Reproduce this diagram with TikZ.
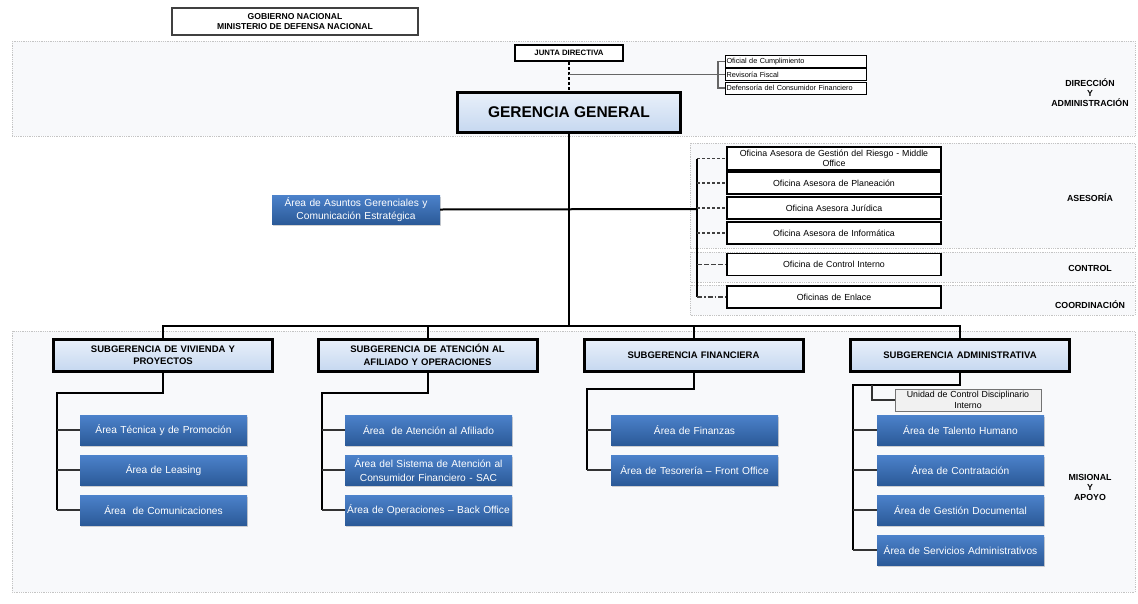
\documentclass[tikz,border=0pt]{standalone}
\usepackage{fontspec}
\setmainfont{Liberation Sans}
\usetikzlibrary{shadows}
\definecolor{regbg}{HTML}{F8F9FB}
\definecolor{regline}{HTML}{C4C4C4}
\definecolor{ltop}{HTML}{E9F0FA}
\definecolor{lbot}{HTML}{C6D8F0}
\definecolor{btop}{HTML}{4C82CB}
\definecolor{bbot}{HTML}{2B5A98}
\definecolor{grayfill}{HTML}{F1F1F1}
\newcommand{\fs}[2]{\fontsize{#1}{#2}\selectfont}
\tikzset{
  region/.style={draw=regline, densely dotted, line width=0.8, fill=regbg},
  conn/.style={draw=black, line width=2},
  tick/.style={draw=black!80, line width=1.4},
  hdrbox/.style={draw=black!75, line width=1.3, fill=white, minimum width=246, minimum height=27,
    inner sep=0, align=center, font=\fs{8.6}{10.5}\bfseries},
  juntabox/.style={draw=black, line width=2, fill=white, minimum width=108, minimum height=16,
    inner sep=0, font=\fs{7.8}{9}\bfseries},
  ggbox/.style={draw=black, line width=3, top color=ltop, bottom color=lbot, minimum width=223,
    minimum height=40, inner sep=0, font=\fs{15.5}{18}\bfseries},
  smallbox/.style={draw=black, line width=1, fill=white, minimum width=141, minimum height=12,
    inner sep=1.5, text width=138, align=left, font=\fs{7.3}{8}},
  asbox/.style={draw=black, line width=1.1, fill=white, minimum width=214, minimum height=22,
    inner sep=0, text width=212, align=center, font=\fs{8.8}{10.5}},
  subbox/.style={draw=black, line width=3, top color=ltop, bottom color=lbot, minimum width=219,
    minimum height=32, inner sep=0, text width=210, align=center, font=\fs{9.5}{12.5}\bfseries},
  bluebox/.style={top color=btop, bottom color=bbot, minimum width=167, minimum height=30,
    inner sep=0, text width=167, align=center, text=white, font=\fs{10.2}{13.5},
    drop shadow={shadow xshift=1pt, shadow yshift=-1.5pt, opacity=0.35}},
  unitbox/.style={draw=black!55, line width=1, fill=grayfill, minimum width=146, minimum height=22,
    inner sep=0, text width=146, align=center, font=\fs{8.8}{10.5}},
  lvl/.style={align=center, font=\fs{8.8}{10}\bfseries}
}
\begin{document}
\begin{tikzpicture}[x=1pt, y=-1pt]
\useasboundingbox (0,0) rectangle (1138,603);
\fill[white] (0,0) rectangle (1138,603);

% background bands
\draw[region] (12,41) rectangle (1135,136);
\draw[region] (690,143) rectangle (1135,248);
\draw[region] (690,252) rectangle (1135,282);
\draw[region] (690,285) rectangle (1135,315);
\draw[region] (12,331) rectangle (1135,592);

% level labels
\node[lvl] (l1) at (1090,93) {DIRECCIÓN\\Y\\ADMINISTRACIÓN};
\node[lvl] (l2) at (1090,198) {ASESORÍA};
\node[lvl] (l3) at (1090,268) {CONTROL};
\node[lvl] (l4) at (1090,305) {COORDINACIÓN};
\node[lvl] (l5) at (1090,487) {MISIONAL\\Y\\APOYO};

% top
\node[hdrbox] (gob) at (295,21.5) {GOBIERNO NACIONAL\\MINISTERIO DE DEFENSA NACIONAL};
\node[juntabox] (jd) at (569,53) {JUNTA DIRECTIVA};
\node[ggbox] (gg) at (569,112) {GERENCIA GENERAL};
\node[smallbox] (oc) at (795.5,61.5) {Oficial de Cumplimiento};
\node[smallbox] (rf) at (795.5,74.5) {Revisoría Fiscal};
\node[smallbox] (dcf) at (795.5,88) {Defensoría del Consumidor Financiero};

\draw[line width=2.4, dashed, dash pattern=on 3pt off 2pt] (jd.south) -- (gg.north);
\coordinate (rb) at (718,74.5);
\draw[draw=black!60, line width=1.6] (569,74.5) -- (rb);
\draw[draw=black!60, line width=1.6] (oc.west) -| (rb |- dcf.west) -- (dcf.west);
\draw[draw=black!60, line width=1.6] (rb) -- (rf.west);

% advisory offices
\node[bluebox, minimum width=168, minimum height=29, text width=168] (ag) at (356,209.5)
  {Área de Asuntos Gerenciales y\\Comunicación Estratégica};
\node[asbox, minimum height=23] (as1) at (834,158.5) {Oficina Asesora de Gestión del Riesgo - Middle\\Office};
\node[asbox] (as2) at (834,183) {Oficina Asesora de Planeación};
\node[asbox] (as3) at (834,208) {Oficina Asesora Jurídica};
\node[asbox] (as4) at (834,233) {Oficina Asesora de Informática};
\node[asbox] (ci) at (834,264.5) {Oficina de Control Interno};
\node[asbox] (oe) at (834,297) {Oficinas de Enlace};

\coordinate (sp) at (697,209);
\coordinate (bus) at (569,326);
\draw[conn] (gg.south) -- (bus);
\draw[conn] (ag.east) -- (sp);
\draw[conn] (sp |- as1.west) -- (sp |- oe.west);
\foreach \n in {as1,as2,as3,as4}
  \draw[draw=black!75, line width=1.4, dash pattern=on 3pt off 2pt] (sp |- \n.west) -- (\n.west);
\draw[draw=black!75, line width=1.4, dash pattern=on 5pt off 2pt] (sp |- ci.west) -- (ci.west);
\draw[draw=black!75, line width=1.4, dash pattern=on 5pt off 2pt on 1.5pt off 2pt] (sp |- oe.west) -- (oe.west);

% sub-managements
\node[subbox] (sv) at (163,355) {SUBGERENCIA DE VIVIENDA Y\\PROYECTOS};
\node[subbox] (sa) at (427.5,355) {SUBGERENCIA DE ATENCIÓN AL\\AFILIADO Y OPERACIONES};
\node[subbox] (sf) at (693.5,355) {SUBGERENCIA FINANCIERA};
\node[subbox] (sad) at (960,355) {SUBGERENCIA ADMINISTRATIVA};

\draw[conn] (sv.north) |- (sad.north |- bus) -- (sad.north);
\draw[conn] (sa.north) -- (sa.north |- bus);
\draw[conn] (sf.north) -- (sf.north |- bus);

% areas
\node[bluebox] (v1) at (163.5,430) {Área Técnica y de Promoción};
\node[bluebox] (v2) at (163.5,470) {Área de Leasing};
\node[bluebox] (v3) at (163.5,510) {Área~ de Comunicaciones};

\node[bluebox] (a1) at (428.5,430) {Área~ de Atención al Afiliado};
\node[bluebox] (a2) at (428.5,470) {Área del Sistema de Atención al\\Consumidor Financiero - SAC};
\node[bluebox] (a3) at (428.5,510) {Área de Operaciones – Back Office};

\node[bluebox] (f1) at (694.5,430) {Área de Finanzas};
\node[bluebox] (f2) at (694.5,470) {Área de Tesorería – Front Office};

\node[unitbox] (ud) at (968,400) {Unidad de Control Disciplinario\\Interno};
\node[bluebox] (d1) at (960.5,430) {Área de Talento Humano};
\node[bluebox] (d2) at (960.5,470) {Área de Contratación};
\node[bluebox] (d3) at (960.5,510) {Área de Gestión Documental};
\node[bluebox] (d4) at (960.5,550) {Área de Servicios Administrativos};

% brackets to the areas
\coordinate (k1) at (57,393);
\coordinate (k2) at (322,393);
\coordinate (k3) at (587,389);
\coordinate (k4) at (853,385);
\coordinate (k5) at (872,385);
\draw[conn] (sv.south) |- (k1) -- (k1 |- v3.west);
\draw[conn] (sa.south) |- (k2) -- (k2 |- a3.west);
\draw[conn] (sf.south) |- (k3) -- (k3 |- f2.west);
\draw[conn] (sad.south) |- (k4) -- (k4 |- d4.west);
\foreach \n in {v1,v2,v3} \draw[tick] (k1 |- \n.west) -- (\n.west);
\foreach \n in {a1,a2,a3} \draw[tick] (k2 |- \n.west) -- (\n.west);
\foreach \n in {f1,f2} \draw[tick] (k3 |- \n.west) -- (\n.west);
\foreach \n in {d1,d2,d3,d4} \draw[tick] (k4 |- \n.west) -- (\n.west);
\draw[tick] (k5) |- (ud.west);
\end{tikzpicture}
\end{document}
